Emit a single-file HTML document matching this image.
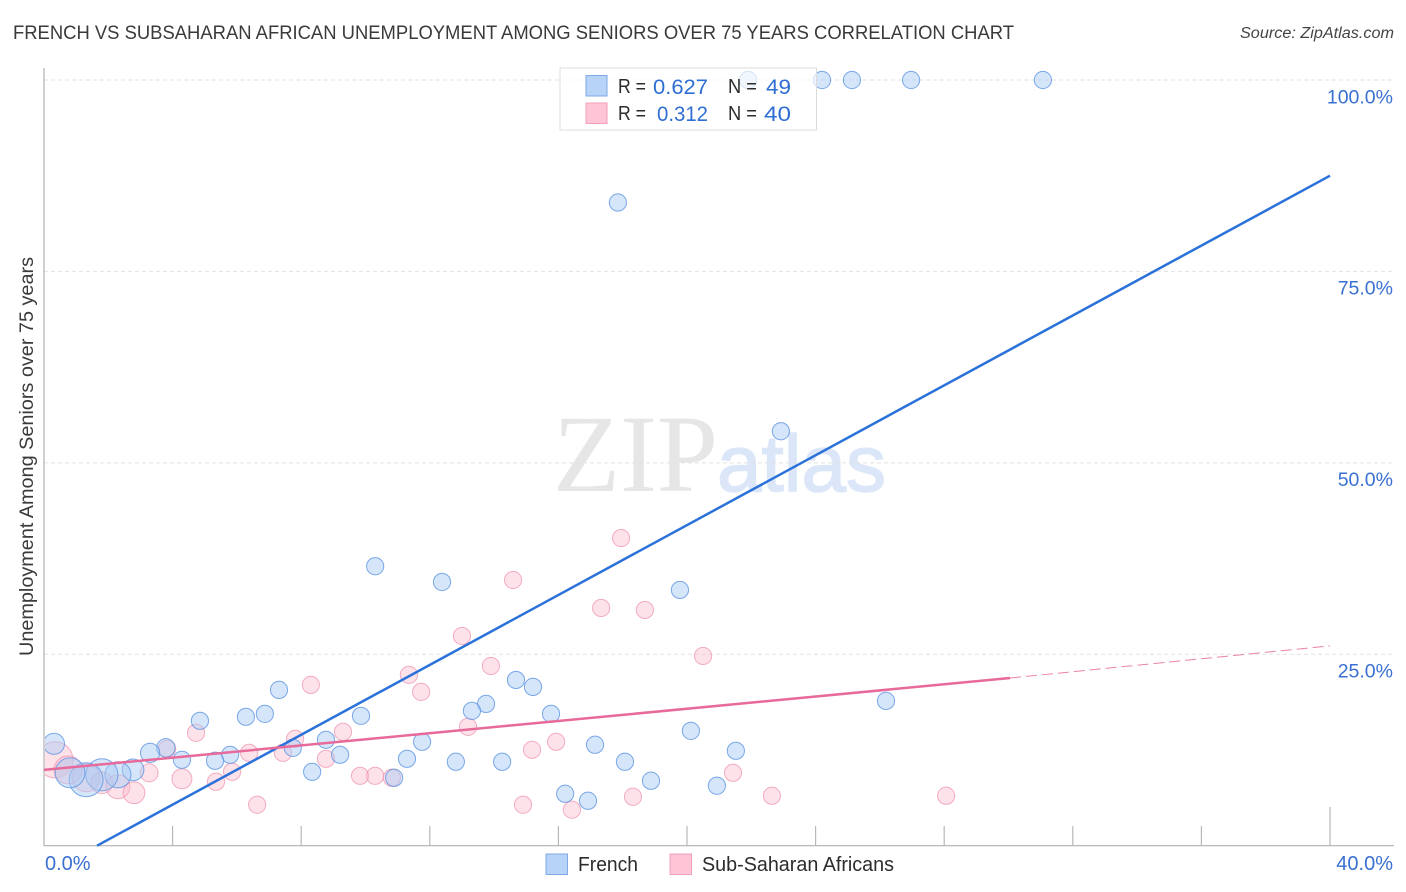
<!DOCTYPE html>
<html>
<head>
<meta charset="utf-8">
<title>French vs Subsaharan African Unemployment Among Seniors over 75 years Correlation Chart</title>
<style>
html,body{margin:0;padding:0;background:#fff;}
svg{display:block;font-family:"Liberation Sans",sans-serif;}
</style>
</head>
<body>
<svg id="chart" width="1406" height="892" viewBox="0 0 1406 892" xmlns="http://www.w3.org/2000/svg">
  <rect x="0" y="0" width="1406" height="892" fill="#ffffff"/>
  <text x="13" y="39" font-size="19.5" fill="#3a3a3a" textLength="1001" lengthAdjust="spacingAndGlyphs">FRENCH VS SUBSAHARAN AFRICAN UNEMPLOYMENT AMONG SENIORS OVER 75 YEARS CORRELATION CHART</text>
  <text x="1394" y="38" font-size="15.5" font-style="italic" fill="#444444" text-anchor="end" textLength="154" lengthAdjust="spacingAndGlyphs">Source: ZipAtlas.com</text>
  <text x="553" y="491" font-family="'Liberation Serif',serif" font-size="110" fill="#e6e6e6">ZIP</text>
  <text x="717" y="491" font-size="80" fill="#dbe7f9" stroke="#dbe7f9" stroke-width="1.5">atlas</text>
  <g id="grid"></g>
  <g id="axes"></g>
  <g id="pink-points"></g>
  <g id="blue-points"></g>
  <g id="trends"></g>
  <g id="labels"></g>
  <text transform="translate(33,656) rotate(-90)" font-size="19" fill="#3a3a3a" textLength="399" lengthAdjust="spacingAndGlyphs">Unemployment Among Seniors over 75 years</text>

  <g>
    <rect x="560" y="68" width="256.5" height="62" fill="#ffffff" fill-opacity="0.68" stroke="#dcdcdc" stroke-width="1"/>
    <rect x="586" y="75.5" width="21" height="20.5" fill="#b7d3f8" stroke="#7eaae6" stroke-width="1"/>
    <rect x="586" y="103" width="21" height="20.5" fill="#fec5d6" stroke="#f3a0b9" stroke-width="1"/>
    <g font-size="20" fill="#2c2c2c">
      <text x="618" y="93" textLength="28" lengthAdjust="spacingAndGlyphs">R =</text>
      <text x="728" y="93" textLength="29" lengthAdjust="spacingAndGlyphs">N =</text>
      <text x="618" y="120" textLength="28" lengthAdjust="spacingAndGlyphs">R =</text>
      <text x="728" y="120" textLength="29" lengthAdjust="spacingAndGlyphs">N =</text>
    </g>
    <g font-size="21.5" fill="#2f6fd4">
      <text x="653" y="94" textLength="55" lengthAdjust="spacingAndGlyphs">0.627</text>
      <text x="766" y="94" textLength="25" lengthAdjust="spacingAndGlyphs">49</text>
      <text x="657" y="121" textLength="51" lengthAdjust="spacingAndGlyphs">0.312</text>
      <text x="764" y="121" textLength="27" lengthAdjust="spacingAndGlyphs">40</text>
    </g>
  </g>

  <g>
    <rect x="546" y="854" width="21.5" height="20.5" fill="#b7d3f8" stroke="#7eaae6" stroke-width="1"/>
    <text x="578" y="871" font-size="20" fill="#2c2c2c" textLength="60" lengthAdjust="spacingAndGlyphs">French</text>
    <rect x="670" y="854" width="21.5" height="20.5" fill="#fec5d6" stroke="#f3a0b9" stroke-width="1"/>
    <text x="702" y="871" font-size="20" fill="#2c2c2c" textLength="192" lengthAdjust="spacingAndGlyphs">Sub-Saharan Africans</text>
  </g>
</svg>
<script>
var frenchX = [24.2,25.13,26.97,31.07,21.9,17.85,22.92,10.3,12.38,19.78,14.68,15.21,7.31,13.75,13.31,26.19,15.77,6.87,6.28,9.86,4.85,20.12,8.77,11.76,17.14,21.52,0.31,3.79,3.3,7.74,5.79,9.21,5.32,4.29,11.29,12.81,14.25,18.07,8.34,18.88,10.89,20.93,16.21,16.92,2.77,2.3,1.8,1.31,0.81];
var frenchY = [100,100,100,100,100,84,54.13,36.5,34.44,33.4,21.65,20.74,20.35,18.52,17.61,18.91,17.22,17.22,16.83,16.96,16.31,15,13.83,13.57,13.18,12.39,13.31,12.78,12.13,12.78,11.87,11.87,11.09,11.22,11.35,10.96,10.96,10.96,9.65,8.48,8.87,7.83,6.78,5.87,9.91,9.26,9.26,8.61,9.52];
var frenchWeight = [1,1,1,1,1,1,1,1,1,1,1,1,1,1,1,1,1,1,1,1,1,1,1,1,1,1,1.5,1.15,1.25,1,1,1,1,1,1,1,1,1,1,1,1,1,1,1,1.6,2.3,3.5,3.9,3];
var subSaharanX = [0.34,0.75,1.31,1.8,2.3,2.8,3.27,4.29,3.83,4.73,5.35,5.85,6.38,6.63,7.43,7.81,8.3,8.77,9.3,11.35,11.73,13,13.9,14.59,17.33,18.69,17.95,20.5,13.19,9.83,10.3,10.82,15.18,15.93,14.9,16.42,18.32,21.43,22.64,28.06];
var subSaharanY = [11.22,9.91,8.87,8.22,7.7,6.91,9.52,8.74,12.65,14.74,8.35,9.65,12.13,5.35,12.13,13.96,21,11.35,14.87,22.31,20.09,27.39,23.48,34.7,31.05,30.79,40.18,24.78,15.52,9.13,9.13,8.87,12.52,13.57,5.35,4.7,6.39,9.52,6.52,6.52];
var subSaharanWeight = [4.4,2.65,2.65,1.6,1.95,1.6,1.1,1.35,1,1,1,1,1,1,1,1,1,1,1,1,1,1,1,1,1,1,1,1,1,1,1,1,1,1,1,1,1,1,1,1];
var frenchTrendX = [1.65,40];
var frenchTrendY = [0,87.5];
var subSaharanTrendX = [0,30.05];
var subSaharanTrendY = [9.9,21.9];
var subSaharanDashX = [30.05,40];
var subSaharanDashY = [21.9,26.1];
var yTicks = [25,50,75,100];
var yTickLabels = ["25.0%","50.0%","75.0%","100.0%"];
var xTicks = [4,8,12,16,20,24,28,32,36,40];
var xEndTicks = [0,40];
var xEndLabels = ["0.0%","40.0%"];

var NS = "http://www.w3.org/2000/svg";
function sx(v){ return 44 + v * 32.15; }
function sy(v){ return 845.7 - v * 7.657; }
function sr(w){ return 8.6 * Math.sqrt(w); }
function make(tag, attrs, parent){
  var el = document.createElementNS(NS, tag);
  for (var k in attrs) el.setAttribute(k, attrs[k]);
  parent.appendChild(el);
  return el;
}

var gridG = document.getElementById("grid");
yTicks.forEach(function(t){
  var el = make("line", {x1:44, x2:1394, y1:sy(t), y2:sy(t), stroke:"#e2e2e2", "stroke-width":1, "stroke-dasharray":"4 3"}, gridG);
  
  
});

var axesG = document.getElementById("axes");
var yAxisLine = make("line", {x1:44, x2:44, y1:68, y2:846, stroke:"#b0b0b0", "stroke-width":1.2}, axesG);


var xAxisLine = make("line", {x1:44, x2:1394, y1:845.7, y2:845.7, stroke:"#b0b0b0", "stroke-width":1.2}, axesG);


xTicks.forEach(function(t){
  var top = t === 40 ? 807 : 826;
  var el = make("line", {x1:sx(t), x2:sx(t), y1:top, y2:845.7, stroke:"#b8b8b8", "stroke-width":1.2}, axesG);
  
  
});

var defs = make("defs", {}, document.getElementById("chart"));
var clip = make("clipPath", {id:"plot-clip"}, defs);
make("rect", {x:45, y:60, width:1349, height:785}, clip);

var pinkG = document.getElementById("pink-points");
pinkG.setAttribute("clip-path", "url(#plot-clip)");
subSaharanX.forEach(function(v, i){
  var el = make("circle", {cx:sx(v), cy:sy(subSaharanY[i]), r:sr(subSaharanWeight[i]), fill:"#fbb9cd", "fill-opacity":0.42, stroke:"#ee8fab", "stroke-opacity":0.7, "stroke-width":1}, pinkG);
  
  
});

var blueG = document.getElementById("blue-points");
blueG.setAttribute("clip-path", "url(#plot-clip)");
frenchX.forEach(function(v, i){
  var el = make("circle", {cx:sx(v), cy:sy(frenchY[i]), r:sr(frenchWeight[i]), fill:"#a9caf5", "fill-opacity":0.48, stroke:"#5b93e2", "stroke-opacity":0.8, "stroke-width":1}, blueG);
  
  
});

var trendG = document.getElementById("trends");
var blueLine = make("line", {x1:sx(frenchTrendX[0]), y1:sy(frenchTrendY[0]), x2:sx(frenchTrendX[1]), y2:sy(frenchTrendY[1]), stroke:"#2a72d9", "stroke-width":2.5}, trendG);


var pinkLine = make("line", {x1:sx(subSaharanTrendX[0]), y1:sy(subSaharanTrendY[0]), x2:sx(subSaharanTrendX[1]), y2:sy(subSaharanTrendY[1]), stroke:"#e76a9a", "stroke-width":2.5}, trendG);


var pinkDash = make("line", {x1:sx(subSaharanDashX[0]), y1:sy(subSaharanDashY[0]), x2:sx(subSaharanDashX[1]), y2:sy(subSaharanDashY[1]), stroke:"#eb82a9", "stroke-width":1, "stroke-dasharray":"11 5"}, trendG);



var labelG = document.getElementById("labels");
yTicks.forEach(function(t, i){
  var el = make("text", {x:1393, y:sy(t) + 23.3, "font-size":19.5, fill:"#3a70d2", "text-anchor":"end"}, labelG);
  el.textContent = yTickLabels[i];
  
  
});
xEndTicks.forEach(function(t, i){
  var el = make("text", {x: i === 0 ? 45 : 1393, y:870, "font-size":20, fill:"#3a70d2", "text-anchor": i === 0 ? "start" : "end"}, labelG);
  el.textContent = xEndLabels[i];
  
  
});
</script>
</body>
</html>
